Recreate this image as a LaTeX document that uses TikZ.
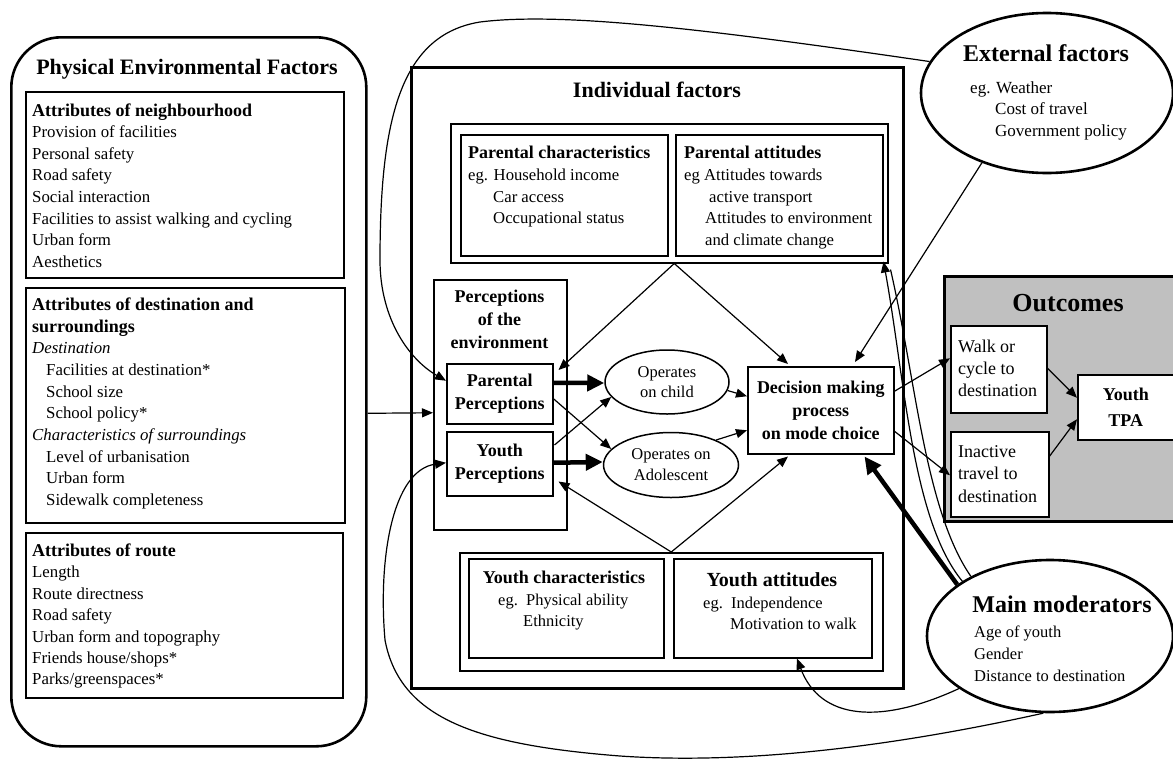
\documentclass[tikz,border=0pt]{standalone}
\usepackage{fontspec}
\setmainfont{Liberation Serif}
\usetikzlibrary{calc,arrows.meta,shapes.geometric}
\newcommand\fsz[2]{\fontsize{#1}{#2}\selectfont}
\newcommand\hd[1]{{\fontsize{18}{21.6}\selectfont\bfseries #1}}
\definecolor{outgray}{RGB}{192,192,192}
\tikzset{
 box/.style={draw, line width=1.5pt, inner sep=0pt, anchor=north west},
 bigbox/.style={draw, line width=2.6pt, inner sep=0pt, anchor=north west},
 txt/.style={inner sep=0pt, anchor=base west, align=left},
 ttl/.style={inner sep=0pt, anchor=base, font=\bfseries\fsz{22}{26}},
 arr/.style={line width=1.2pt, -{Triangle[length=11pt,width=9pt]}},
 tarr/.style={line width=4.5pt, -{Triangle[length=17pt,width=16pt]}},
 plainln/.style={line width=1.2pt},
 oval/.style={draw, ellipse, line width=2.6pt, fill=white, inner sep=0pt},
}
\begin{document}
\begin{tikzpicture}[x=1pt,y=-1pt]
\useasboundingbox (0,0) rectangle (1173,758);

% ---------- Physical environmental factors ----------
\node[bigbox, rounded corners=50pt, minimum width=355pt, minimum height=709pt] (phys) at (10,36) {};
\node[ttl] (physT) at (187,74) {Physical Environmental Factors};

\node[box, minimum width=318pt, minimum height=186pt] (nbh) at (25,91) {};
\node[txt, font=\fsz{16.8}{21.6}] (nbhT) at (32,267.2) {\hd{Attributes of neighbourhood}\\Provision of facilities\\Personal safety\\Road safety\\Social interaction\\Facilities to assist walking and cycling\\Urban form\\Aesthetics};

\node[box, minimum width=319pt, minimum height=235pt] (dest) at (25,287) {};
\node[txt, font=\fsz{16.8}{21.67}] (destT) at (32,505.5) {\hd{Attributes of destination and}\\\hd{surroundings}\\\textit{Destination}\\\hspace*{14pt}Facilities at destination*\\\hspace*{14pt}School size\\\hspace*{14pt}School policy*\\\textit{Characteristics of surroundings}\\\hspace*{14pt}Level of urbanisation\\\hspace*{14pt}Urban form\\\hspace*{14pt}Sidewalk completeness};

\node[box, minimum width=317pt, minimum height=165pt] (route) at (25,532) {};
\node[txt, font=\fsz{16.8}{21.4}] (routeT) at (32,684.9) {\hd{Attributes of route}\\Length\\Route directness\\Road safety\\Urban form and topography\\Friends house/shops*\\Parks/greenspaces*};

% ---------- Individual factors ----------
\node[bigbox, minimum width=492pt, minimum height=621pt] (ind) at (410,66) {};
\node[ttl] (indT) at (657,97) {Individual factors};

\node[box, minimum width=437pt, minimum height=139pt] (pg) at (450,123) {};
\node[box, minimum width=207pt, minimum height=121pt] (pc) at (460,134) {};
\node[box, minimum width=207pt, minimum height=121pt] (pa) at (675,134) {};
\node[txt, font=\bfseries\fsz{18}{22}] (pcH) at (468,158) {Parental characteristics};
\node[txt, font=\fsz{16.7}{21.6}] (pcT) at (468,223.7) {eg. Household income\\\hspace*{25pt}Car access\\\hspace*{25pt}Occupational status};
\node[txt, font=\bfseries\fsz{18}{22}] (paH) at (684,158) {Parental attitudes};
\node[txt, font=\fsz{16.7}{21.6}] (paT) at (684,245.3) {eg Attitudes towards\\\hspace*{25pt}active transport\\\hspace*{21pt}Attitudes to environment\\\hspace*{21pt}and climate change};

\node[box, minimum width=133pt, minimum height=250pt] (perc) at (433,279) {};
\node[inner sep=0pt, anchor=base, align=center, font=\bfseries\fsz{18}{23.3}] (percT) at (499.5,348.6) {Perceptions\\of the\\environment};
\node[box, minimum width=106pt, minimum height=60pt, align=center, font=\bfseries\fsz{18}{23.3}] (pp) at (446,363) {Parental\\Perceptions};
\node[box, minimum width=106pt, minimum height=64pt, align=center, font=\bfseries\fsz{18}{23.3}] (yp) at (446,431) {Youth\\Perceptions};

\node[draw, ellipse, line width=1.5pt, inner sep=0pt, minimum width=124pt, minimum height=64pt, align=center, font=\fsz{16.5}{20}] (oc) at (667,382) {Operates\\on child};
\node[draw, ellipse, line width=1.5pt, inner sep=0pt, minimum width=135pt, minimum height=65pt, align=center, font=\fsz{16.5}{21}] (oa) at (671,465) {Operates on\\Adolescent};

\node[box, minimum width=146pt, minimum height=87pt, align=center, font=\bfseries\fsz{18}{23}] (dec) at (747,366) {Decision making\\process\\on mode choice};

\node[box, minimum width=423pt, minimum height=118pt] (yg) at (459,552) {};
\node[box, minimum width=195pt, minimum height=99pt] (yc) at (468,558) {};
\node[box, minimum width=198pt, minimum height=99pt] (ya) at (673,558) {};
\node[inner sep=0pt, anchor=base, font=\bfseries\fsz{18}{22}] (ycH) at (564,583) {Youth characteristics};
\node[txt, font=\fsz{16.5}{21}] (ycT) at (498,626) {eg.\ \ Physical ability\\\hspace*{25pt}Ethnicity};
\node[inner sep=0pt, anchor=base, font=\bfseries\fsz{20}{24}] (yaH) at (772,586) {Youth attitudes};
\node[txt, font=\fsz{16.5}{21}] (yaT) at (703,629) {eg.\ \ Independence\\\hspace*{27pt}Motivation to walk};

% ---------- External factors ----------
\node[oval, minimum width=252pt, minimum height=160pt] (ext) at (1047,93) {};
\node[inner sep=0pt, anchor=base, font=\bfseries\fsz{24}{28}] (extT) at (1046,61) {External factors};
\node[txt, font=\fsz{17}{21.5}] (extB) at (970,136) {eg. Weather\\\hspace*{25pt}Cost of travel\\\hspace*{25pt}Government policy};

% ---------- Outcomes ----------
\node[bigbox, fill=outgray, minimum width=235pt, minimum height=245pt] (outc) at (943,275) {};
\node[inner sep=0pt, anchor=base, font=\bfseries\fsz{26}{30}] (outT) at (1068,311) {Outcomes};
\node[box, fill=white, minimum width=96pt, minimum height=87pt] (walk) at (950,325) {};
\node[txt, font=\fsz{18}{22}] (walkT) at (958,396) {Walk or\\cycle to\\destination};
\node[box, fill=white, minimum width=98pt, minimum height=85pt] (inact) at (950,431) {};
\node[txt, font=\fsz{18}{22.5}] (inactT) at (958,502) {Inactive\\travel to\\destination};
\node[box, fill=white, minimum width=96pt, minimum height=65pt, align=center, font=\bfseries\fsz{18}{26}] (tpa) at (1077,374) {Youth\\TPA};

% ---------- Main moderators ----------
\node[oval, minimum width=246pt, minimum height=152pt] (mm) at (1050,636) {};
\node[inner sep=0pt, anchor=base, font=\bfseries\fsz{24}{28}] (mmT) at (1062,612) {Main moderators};
\node[txt, font=\fsz{16.5}{22}] (mmB) at (974,681) {Age of youth\\Gender\\Distance to destination};

% ---------- Connectors ----------
\draw[arr] ($(phys.east)+(0,21.5)$) -- ($(perc.west)+(0,8)$);

\draw[arr] ($(pg.south)+(5,0)$) -- ($(pp.north east)+(5,7)$);
\draw[arr] ($(pg.south)+(5,0)$) -- ($(dec.north west)+(41,-2)$);
\draw[arr] (yg.north) -- ($(yp.south east)+(5,-15)$);
\draw[arr] (yg.north) -- ($(dec.south west)+(41,2)$);

\draw[tarr] ($(pp.east)+(0,-11)$) -- ($(oc.west)+(0,1)$);
\draw[tarr] ($(yp.east)+(0,-1)$) -- ($(oa.west)+(0,-3)$);
\draw[arr] ($(pp.east)+(0,5)$) -- (oa.165);
\draw[arr] ($(yp.north east)+(1,14)$) -- (oc.195);
\draw[arr] (oc.-8) -- ($(dec.west)+(0,-14)$);
\draw[arr] (oa.29) -- ($(dec.west)+(0,20)$);

\draw[arr] (ext.227) -- ($(dec.north west)+(108,-4)$);
\draw[arr] ($(dec.east)+(0,-19)$) -- ($(walk.west)+(0,-11)$);
\draw[arr] ($(dec.east)+(0,21)$) -- ($(inact.west)+(0,1)$);
\draw[arr] ($(walk.east)+(0,-1)$) -- ($(tpa.west)+(0,-9.5)$);
\draw[arr] ($(inact.east)+(0,-18)$) -- ($(tpa.west)+(0,12)$);

\draw[tarr] (mm.151) -- ($(dec.south east)+(-30,2)$);

\draw[arr] (ext.165) .. controls (700,28) and (560,12) .. (480,22)
  .. controls (400,35) and (380,120) .. (380,260)
  .. controls (380,320) and (410,360) .. ($(pp.west)+(0,-13)$);
\draw[arr] (mm.265) .. controls (900,745) and (750,765) .. (620,756)
  .. controls (480,745) and (400,720) .. (385,640)
  .. controls (378,560) and (392,470) .. ($(yp.west)+(0,-1)$);
\draw[arr] (mm.210) .. controls (880,725) and (820,720) .. ($(ya.south west)+(124,0)$);
\draw[arr] (mm.148) .. controls (912,520) and (905,380) .. ($(pg.south east)+(-5,-2)$);
\draw[plainln] (mm.143) .. controls (925,510) and (916,380) .. ($(pg.south east)+(2,6)$);
\end{tikzpicture}
\end{document}
